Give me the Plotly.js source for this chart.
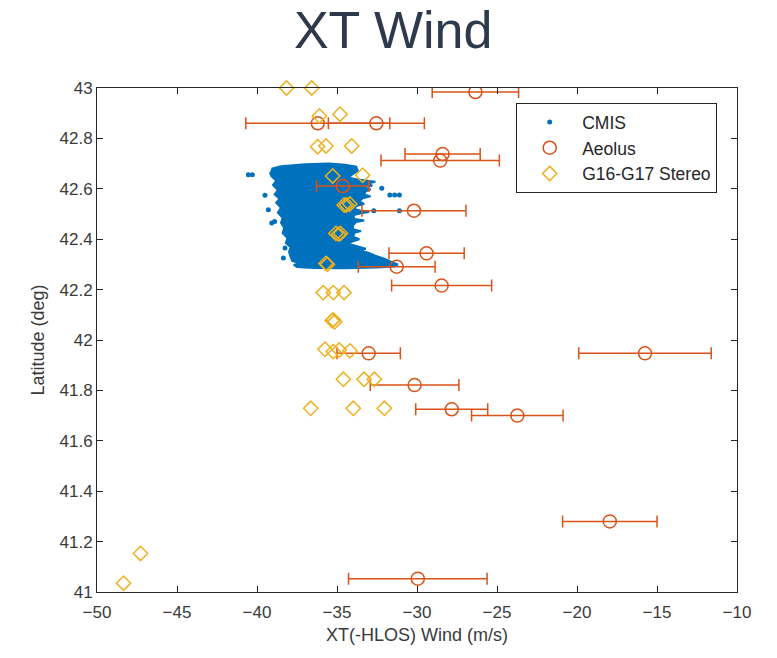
<!DOCTYPE html>
<html>
<head>
<meta charset="utf-8">
<script src="https://cdn.plot.ly/plotly-3.0.1.min.js"></script>
<style>html,body{margin:0;padding:0;background:#fff;}#chart{width:777px;height:658px;}</style>
</head>
<body>
<div id="chart"></div>
<script>
// ---------- DATA ----------
// CMIS: dense point cloud, traced as its outline (x in m/s, latitude in deg)
var cmisOutlineX = [-39.1,-38.5,-37.0,-35.5,-34.5,-33.8,-33.7,-34.0,-34.3,-33.8,-33.0,-32.6,-33.0,-32.8,-33.4,-32.9,-33.2,-33.3,-32.9,-33.4,-33.6,-33.3,-33.8,-33.9,-33.5,-33.0,-33.5,-34.0,-33.9,-33.3,-33.8,-34.0,-34.0,-33.5,-33.9,-34.0,-33.6,-34.0,-34.3,-33.8,-33.2,-33.6,-33.0,-32.6,-32.0,-31.6,-31.2,-31.4,-32.5,-34.5,-36.5,-37.5,-37.7,-37.4,-37.8,-37.9,-38.0,-37.9,-38.2,-38.1,-38.4,-38.3,-38.5,-38.4,-38.7,-38.5,-38.8,-38.6,-38.9,-38.7,-39.0,-38.8,-39.1,-39.2];
var cmisOutlineLat = [42.680,42.690,42.697,42.700,42.695,42.688,42.672,42.660,42.645,42.638,42.633,42.628,42.622,42.612,42.605,42.598,42.590,42.578,42.570,42.562,42.550,42.540,42.532,42.520,42.512,42.508,42.503,42.495,42.480,42.474,42.468,42.455,42.440,42.432,42.425,42.410,42.400,42.392,42.382,42.372,42.362,42.355,42.345,42.335,42.322,42.310,42.300,42.292,42.288,42.285,42.286,42.290,42.298,42.306,42.314,42.330,42.350,42.368,42.385,42.405,42.425,42.445,42.465,42.485,42.505,42.525,42.545,42.560,42.578,42.595,42.615,42.632,42.650,42.665];
// CMIS: isolated dots outside the dense body
var cmisDotX = [-40.54,-40.29,-39.5,-39.29,-39.08,-38.25,-38.35,-37.42,-32.2,-31.7,-31.4,-31.1,-31.1,-32.7,-38.9];
var cmisDotLat = [42.656,42.656,42.574,42.517,42.464,42.365,42.325,42.299,42.602,42.575,42.575,42.575,42.513,42.513,42.47];

// Aeolus: wind, latitude and half-width of the error bar (m/s)
var aeolusX   = [-26.35,-36.2,-32.54,-28.4,-28.55,-34.64,-30.19,-29.4,-31.27,-28.46,-33.02,-15.75,-30.15,-27.83,-23.73,-17.95,-29.95];
var aeolusLat = [42.984,42.86,42.86,42.738,42.712,42.611,42.513,42.344,42.291,42.216,41.947,41.947,41.821,41.725,41.70,41.28,41.053];
var aeolusErr = [2.7,4.5,3.0,2.35,3.7,1.64,3.25,2.35,2.4,3.125,1.98,4.14,2.77,2.25,2.86,2.95,4.33];

// G16-G17 Stereo
var stereoX   = [-38.15,-36.58,-36.1,-34.81,-36.21,-35.69,-34.08,-35.27,-33.4,-34.55,-34.4,-34.2,-35.07,-34.9,-34.78,-35.69,-35.6,-35.86,-35.23,-34.56,-35.3,-35.15,-35.23,-35.75,-35.23,-34.86,-34.19,-34.6,-33.31,-32.67,-36.64,-33.98,-32.04,-47.28,-48.34];
var stereoLat = [43.0,43.0,42.889,42.896,42.767,42.77,42.77,42.651,42.654,42.536,42.536,42.54,42.423,42.42,42.423,42.304,42.30,42.188,42.188,42.188,42.077,42.072,42.08,41.963,41.954,41.96,41.957,41.844,41.844,41.844,41.729,41.729,41.729,41.153,41.035];

var seriesNames = ['CMIS','Aeolus','G16-G17 Stereo'];
var chartTitle = 'XT Wind';
var xTitle = 'XT(-HLOS) Wind (m/s)';
var yTitle = 'Latitude (deg)';

// ---------- STYLE ----------
var cBlue = '#0072BD', cRed = '#D95319', cYellow = '#EDB120';
var fontFam = '"Liberation Sans", Arial, sans-serif';

var traces = [
  {
    x: cmisOutlineX, y: cmisOutlineLat, type: 'scatter', mode: 'lines',
    fill: 'toself', fillcolor: cBlue, line: {color: cBlue, width: 2},
    showlegend: false, legendgroup: 'cmis', hoverinfo: 'skip'
  },
  {
    x: cmisDotX, y: cmisDotLat, type: 'scatter', mode: 'markers',
    name: seriesNames[0], legendgroup: 'cmis',
    marker: {color: cBlue, size: 5}
  },
  {
    x: aeolusX, y: aeolusLat, type: 'scatter', mode: 'markers',
    name: seriesNames[1],
    marker: {symbol: 'circle-open', size: 13, color: cRed, line: {width: 1.5, color: cRed}},
    error_x: {type: 'data', array: aeolusErr, visible: true, color: cRed, thickness: 1.5, width: 6}
  },
  {
    x: stereoX, y: stereoLat, type: 'scatter', mode: 'markers',
    name: seriesNames[2], cliponaxis: false,
    marker: {symbol: 'diamond-open', size: 11, color: cYellow, line: {width: 1.5, color: cYellow}}
  }
];

var axisCommon = {
  showline: true, linecolor: '#262626', linewidth: 1, mirror: 'ticks',
  ticks: 'inside', ticklen: 6, tickcolor: '#262626', tickwidth: 1,
  showgrid: false, zeroline: false,
  tickfont: {family: fontFam, size: 17, color: '#3a3a3a'}
};

var layout = {
  width: 777, height: 658,
  paper_bgcolor: '#fff', plot_bgcolor: '#fff',
  margin: {l: 97, r: 40, t: 88, b: 66},
  title: {
    text: chartTitle, xref: 'container', x: 0.506, xanchor: 'center',
    yref: 'container', y: 0.955, yanchor: 'middle',
    font: {family: fontFam, size: 52, color: '#2E3A4B'}
  },
  xaxis: Object.assign({}, axisCommon, {
    range: [-50, -10], dtick: 5, tick0: -50, ticklabelstandoff: 5,
    title: {text: xTitle, standoff: 6, font: {family: fontFam, size: 18, color: '#3a3a3a'}}
  }),
  yaxis: Object.assign({}, axisCommon, {
    range: [41, 43], dtick: 0.2, tick0: 41,
    title: {text: yTitle, standoff: 10, font: {family: fontFam, size: 18, color: '#3a3a3a'}}
  }),
  legend: {
    x: 0.655, y: 0.970, xanchor: 'left', yanchor: 'top',
    bgcolor: '#fff', bordercolor: '#262626', borderwidth: 1,
    font: {family: fontFam, size: 17.5, color: '#262626'},
    itemwidth: 55, tracegroupgap: 0
  },
  showlegend: true
};

Plotly.newPlot('chart', traces, layout, {displayModeBar: false, staticPlot: true});
</script>
</body>
</html>
